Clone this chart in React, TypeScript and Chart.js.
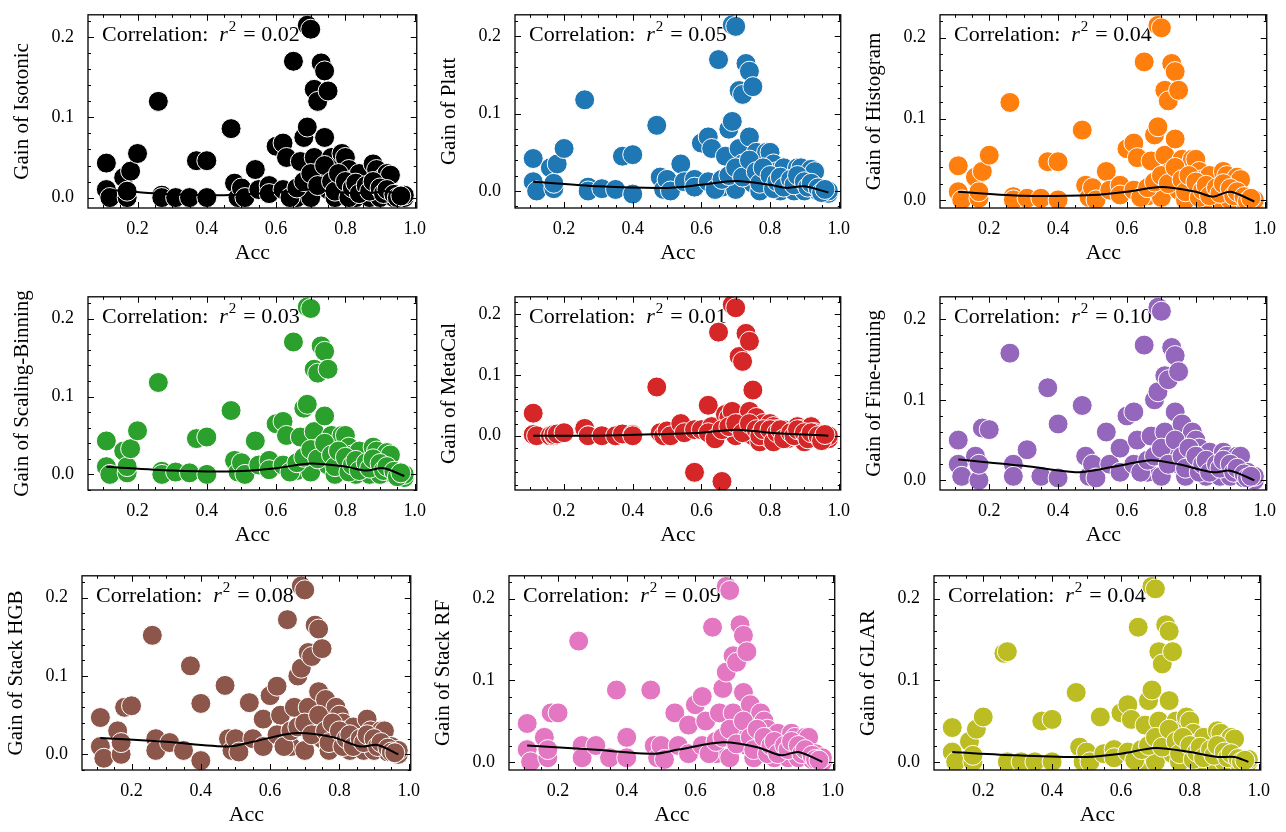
import React, { useEffect, useRef } from "react";
import { Chart, registerables } from "chart.js";
Chart.register(...registerables);

const names = ["Isotonic", "Platt", "Histogram", "Scaling-Binning", "MetaCal", "Fine-tuning", "Stack HGB", "Stack RF", "GLAR"];
const colors = ["#000000", "#1f77b4", "#ff7f0e", "#2ca02c", "#d62728", "#9467bd", "#8c564b", "#e377c2", "#bcbd22"];
const r2 = ["0.02", "0.05", "0.04", "0.03", "0.01", "0.10", "0.08", "0.09", "0.04"];
const yMins = [-0.013, -0.022, -0.01, -0.02, -0.089, -0.012, -0.02, -0.01, -0.01];

const acc = [0.11,0.11,0.12,0.16,0.17,0.17,0.18,0.2,0.26,0.27,0.27,0.31,0.35,0.37,0.4,0.4,0.47,0.48,0.49,0.5,0.51,0.54,0.55,0.58,0.58,0.6,0.62,0.63,0.65,0.66,0.67,0.68,0.69,0.69,0.7,0.7,0.71,0.71,0.72,0.72,0.73,0.73,0.74,0.74,0.75,0.75,0.76,0.77,0.78,0.79,0.8,0.8,0.81,0.82,0.83,0.84,0.85,0.86,0.87,0.88,0.89,0.9,0.91,0.92,0.93,0.94,0.95,0.96,0.97,0.97];
const accDense = [0.62,0.64,0.66,0.68,0.7,0.72,0.74,0.76,0.77,0.78,0.8,0.81,0.82,0.83,0.84,0.86,0.87,0.88,0.9,0.91,0.92,0.94,0.95,0.96];

const gIsotonic = [0.043,0.01,0.0,0.025,0.0,0.008,0.033,0.055,0.12,0.003,0.0,0.0,0.0,0.046,0.046,0.0,0.086,0.018,0.0,0.012,0.0,0.035,0.01,0.015,0.005,0.064,0.068,0.05,0.17,0.0,0.045,0.075,0.215,0.088,0.21,0.0,0.135,0.05,0.12,0.03,0.168,0.025,0.158,0.075,0.133,0.01,0.05,0.0,0.04,0.055,0.05,0.01,0.035,0.022,0.0,0.03,0.005,0.01,0.0,0.042,0.035,0.0,0.025,0.03,0.028,0.0,0.002,0.0,0.0,0.003];
const gPlatt = [0.042,0.012,0.0,0.03,0.003,0.01,0.035,0.055,0.118,0.005,0.0,0.003,0.002,0.045,0.047,-0.004,0.085,0.018,0.002,0.015,0.0,0.035,0.012,0.015,0.005,0.062,0.07,0.055,0.17,0.005,0.045,0.08,0.215,0.09,0.213,0.002,0.13,0.055,0.125,0.035,0.165,0.028,0.155,0.07,0.135,0.01,0.05,0.0,0.04,0.05,0.05,0.01,0.035,0.025,0.0,0.03,0.006,0.01,0.0,0.03,0.03,0.0,0.02,0.028,0.025,0.0,0.002,0.0,-0.003,0.0];
const gHistogram = [0.042,0.01,0.0,0.028,0.002,0.01,0.035,0.055,0.12,0.004,0.0,0.002,0.002,0.047,0.047,0.0,0.086,0.018,0.003,0.015,0.0,0.035,0.012,0.018,0.006,0.063,0.07,0.052,0.17,0.005,0.048,0.08,0.215,0.09,0.212,0.003,0.135,0.055,0.122,0.033,0.168,0.03,0.158,0.075,0.135,0.012,0.05,0.0,0.042,0.05,0.05,0.012,0.035,0.025,0.0,0.03,0.006,0.012,0.0,0.035,0.03,0.0,0.02,0.028,0.025,0.0,0.002,0.0,-0.003,0.0];
const gScaling = [0.043,0.01,0.0,0.03,0.002,0.01,0.033,0.056,0.118,0.004,0.0,0.003,0.002,0.046,0.048,0.0,0.082,0.018,0.003,0.015,0.0,0.043,0.012,0.018,0.006,0.065,0.068,0.05,0.17,0.005,0.048,0.085,0.215,0.09,0.213,0.003,0.135,0.055,0.13,0.033,0.165,0.028,0.158,0.075,0.135,0.012,0.05,0.0,0.04,0.05,0.05,0.012,0.035,0.025,0.0,0.03,0.006,0.012,0.0,0.035,0.03,0.0,0.02,0.028,0.025,0.0,0.002,0.0,-0.004,0.0];
const gMetaCal = [0.037,0.002,0.0,0.0,0.0,0.002,0.003,0.005,0.012,0.0,0.0,0.0,0.0,0.003,0.002,0.0,0.08,0.005,0.0,0.008,0.0,0.02,0.005,-0.06,0.01,0.01,0.05,0.015,0.17,-0.075,0.035,0.03,0.215,0.04,0.21,0.0,0.13,0.02,0.122,0.01,0.168,0.01,0.155,0.04,0.075,0.0,0.03,-0.01,0.02,0.01,0.02,-0.005,0.015,0.01,0.0,0.01,-0.005,0.005,0.0,0.015,0.01,-0.01,0.01,0.015,0.005,0.0,0.002,0.0,-0.005,0.0];
const gFineTuning = [0.05,0.02,0.005,0.03,0.0,0.02,0.065,0.063,0.158,0.02,0.005,0.038,0.005,0.115,0.07,0.003,0.093,0.03,0.005,0.02,0.003,0.06,0.02,0.04,0.01,0.08,0.085,0.05,0.168,0.01,0.055,0.1,0.215,0.11,0.21,0.005,0.13,0.06,0.125,0.04,0.165,0.03,0.155,0.085,0.135,0.02,0.07,0.005,0.05,0.06,0.05,0.02,0.04,0.03,0.005,0.035,0.01,0.02,0.005,0.035,0.03,0.005,0.025,0.03,0.03,0.003,0.01,0.002,0.0,0.005];
const gStackHGB = [0.047,0.01,-0.005,0.03,0.0,0.015,0.06,0.062,0.152,0.02,0.005,0.015,0.005,0.113,0.065,-0.008,0.088,0.02,0.005,0.02,0.003,0.066,0.02,0.045,0.01,0.075,0.087,0.05,0.172,0.01,0.06,0.1,0.215,0.11,0.21,0.005,0.13,0.06,0.125,0.04,0.165,0.03,0.16,0.08,0.135,0.02,0.07,0.005,0.05,0.06,0.05,0.02,0.04,0.03,0.005,0.035,0.01,0.02,0.005,0.045,0.03,0.005,0.025,0.03,0.03,0.003,0.01,0.002,0.0,0.005];
const gStackRF = [0.047,0.015,0.0,0.03,0.005,0.015,0.06,0.06,0.148,0.02,0.005,0.02,0.005,0.088,0.03,0.005,0.088,0.02,0.005,0.02,0.003,0.06,0.02,0.045,0.01,0.07,0.08,0.05,0.165,0.01,0.06,0.09,0.215,0.11,0.21,0.005,0.13,0.06,0.122,0.04,0.168,0.03,0.155,0.085,0.135,0.02,0.07,0.005,0.05,0.06,0.05,0.02,0.04,0.03,0.005,0.035,0.01,0.02,0.005,0.035,0.03,0.005,0.025,0.03,0.03,0.003,0.01,0.002,0.0,0.005];
const gGLAR = [0.042,0.012,0.0,0.025,0.0,0.008,0.04,0.055,0.133,0.135,0.0,0.0,0.0,0.05,0.052,0.0,0.085,0.018,0.0,0.012,0.0,0.055,0.01,0.015,0.005,0.06,0.07,0.052,0.165,0.0,0.045,0.075,0.215,0.088,0.212,0.0,0.135,0.05,0.12,0.03,0.168,0.025,0.16,0.075,0.135,0.01,0.05,0.0,0.04,0.055,0.05,0.01,0.035,0.022,0.0,0.03,0.005,0.01,0.0,0.038,0.035,0.0,0.025,0.03,0.028,0.0,0.002,0.0,0.0,0.003];

const dIsotonic = [0.01,0.0,0.012,0.02,0.03,0.015,0.04,0.02,0.008,0.03,0.02,0.0,0.012,0.018,0.005,0.015,0.008,0.02,0.012,0.005,0.01,0.004,0.0,0.002];
const dPlatt = [0.012,0.002,0.015,0.02,0.03,0.018,0.04,0.025,0.01,0.03,0.02,0.003,0.012,0.018,0.005,0.015,0.008,0.02,0.012,0.005,0.01,0.004,-0.002,0.002];
const dHistogram = [0.012,0.003,0.015,0.022,0.03,0.02,0.04,0.025,0.01,0.03,0.022,0.003,0.012,0.018,0.005,0.015,0.008,0.02,0.014,0.005,0.01,0.004,-0.002,0.002];
const dScaling = [0.012,0.003,0.015,0.022,0.032,0.02,0.04,0.025,0.01,0.03,0.022,0.003,0.012,0.018,0.005,0.015,0.008,0.02,0.014,0.005,0.01,0.004,-0.003,0.002];
const dMetaCal = [0.005,-0.005,0.01,0.015,0.02,0.005,0.02,0.01,0.0,0.01,0.01,-0.01,0.005,0.01,-0.005,0.005,0.0,0.01,0.005,-0.005,0.005,0.0,-0.008,0.002];
const dFineTuning = [0.02,0.01,0.025,0.03,0.04,0.02,0.05,0.03,0.015,0.04,0.03,0.01,0.02,0.025,0.01,0.02,0.015,0.025,0.02,0.01,0.015,0.008,0.003,0.005];
const dStackHGB = [0.025,0.01,0.03,0.035,0.04,0.025,0.05,0.03,0.015,0.04,0.03,0.01,0.02,0.025,0.01,0.02,0.015,0.025,0.02,0.01,0.015,0.008,0.003,0.002];
const dStackRF = [0.02,0.01,0.025,0.03,0.04,0.022,0.05,0.03,0.015,0.04,0.03,0.01,0.02,0.025,0.01,0.02,0.015,0.025,0.02,0.01,0.015,0.008,0.003,0.002];
const dGLAR = [0.012,0.002,0.015,0.02,0.03,0.018,0.04,0.025,0.01,0.03,0.02,0.003,0.012,0.018,0.005,0.015,0.008,0.02,0.012,0.005,0.01,0.004,0.0,0.002];

const tIsotonic = [[0.11,0.01],[0.3,0.004],[0.45,0.003],[0.55,0.005],[0.65,0.008],[0.7,0.01],[0.8,0.006],[0.88,0.006],[0.92,0.008],[0.97,0.0]];
const tPlatt = [[0.11,0.012],[0.3,0.006],[0.5,0.004],[0.6,0.008],[0.7,0.013],[0.8,0.008],[0.85,0.004],[0.9,0.006],[0.97,-0.002]];
const tHistogram = [[0.11,0.01],[0.3,0.005],[0.5,0.006],[0.6,0.01],[0.7,0.016],[0.8,0.01],[0.85,0.004],[0.9,0.01],[0.97,-0.002]];
const tScaling = [[0.11,0.01],[0.3,0.005],[0.48,0.004],[0.6,0.008],[0.7,0.014],[0.8,0.01],[0.86,0.005],[0.91,0.008],[0.97,-0.002]];
const tMetaCal = [[0.11,0.0],[0.3,0.0],[0.5,0.003],[0.6,0.005],[0.7,0.01],[0.8,0.005],[0.97,0.0]];
const tFineTuning = [[0.11,0.026],[0.3,0.018],[0.45,0.01],[0.5,0.012],[0.6,0.02],[0.67,0.025],[0.75,0.02],[0.85,0.01],[0.9,0.012],[0.97,0.0]];
const tStackHGB = [[0.11,0.021],[0.3,0.016],[0.48,0.01],[0.55,0.016],[0.67,0.027],[0.78,0.022],[0.86,0.01],[0.91,0.012],[0.97,0.0]];
const tStackRF = [[0.11,0.02],[0.3,0.015],[0.48,0.01],[0.55,0.015],[0.68,0.024],[0.78,0.018],[0.85,0.008],[0.9,0.012],[0.97,0.0]];
const tGLAR = [[0.11,0.012],[0.3,0.008],[0.5,0.006],[0.6,0.01],[0.7,0.017],[0.8,0.012],[0.88,0.006],[0.93,0.006],[0.97,0.0]];

const gains = [gIsotonic, gPlatt, gHistogram, gScaling, gMetaCal, gFineTuning, gStackHGB, gStackRF, gGLAR];
const dense = [dIsotonic, dPlatt, dHistogram, dScaling, dMetaCal, dFineTuning, dStackHGB, dStackRF, dGLAR];
const trends = [tIsotonic, tPlatt, tHistogram, tScaling, tMetaCal, tFineTuning, tStackHGB, tStackRF, tGLAR];

const colBoxes = [[88, 414], [515, 838], [940, 1264]];
const rowShift = [0, 0, -6];
const rowBoxes = [[14, 208], [296, 490], [575, 770]];
const FONT = "'Liberation Serif', 'DejaVu Serif', serif";
const LEFT = 82, TOP = 16, BOTTOM = 62, RIGHT = 14;

const ticksPlugin = {
  id: "mplTicks",
  beforeDatasetsDraw(chart: any, _a: any, opts: any) {
    const { ctx, chartArea: a } = chart;
    ctx.save();
    ctx.fillStyle = "#000";
    ctx.textBaseline = "alphabetic";
    let x = a.left + 14;
    const y = a.top + 26;
    ctx.font = `22px ${FONT}`;
    const t1 = "Correlation:  ";
    ctx.fillText(t1, x, y);
    x += ctx.measureText(t1).width;
    ctx.font = `italic 22px ${FONT}`;
    ctx.fillText("r", x, y);
    x += ctx.measureText("r").width + 1;
    ctx.font = `15px ${FONT}`;
    ctx.fillText("2", x, y - 10);
    x += ctx.measureText("2").width + 7;
    ctx.font = `22px ${FONT}`;
    ctx.fillText("= " + opts.r2, x, y);
    ctx.restore();
  },
  afterDraw(chart: any) {
    const { ctx, chartArea: a, scales } = chart;
    const xs = scales.x, ys = scales.y;
    ctx.save();
    ctx.strokeStyle = "#000";
    ctx.lineWidth = 1;
    ctx.beginPath();
    for (let i = 0; i <= 20; i++) {
      const v = i * 0.05;
      if (v < xs.min - 1e-9 || v > xs.max + 1e-9) continue;
      const p = Math.round(xs.getPixelForValue(v)) + 0.5;
      const len = i % 4 === 0 ? 6 : 3;
      ctx.moveTo(p, a.bottom); ctx.lineTo(p, a.bottom - len);
      ctx.moveTo(p, a.top); ctx.lineTo(p, a.top + len);
    }
    for (let i = -10; i <= 20; i++) {
      const v = i * 0.02;
      if (v < ys.min - 1e-9 || v > ys.max + 1e-9) continue;
      const p = Math.round(ys.getPixelForValue(v)) + 0.5;
      const len = i % 5 === 0 ? 6 : 3;
      ctx.moveTo(a.left, p); ctx.lineTo(a.left + len, p);
      ctx.moveTo(a.right, p); ctx.lineTo(a.right - len, p);
    }
    ctx.stroke();
    ctx.lineWidth = 1.3;
    ctx.strokeRect(a.left, a.top, a.right - a.left, a.bottom - a.top);
    ctx.restore();
  },
};

function Panel({ idx }: { idx: number }) {
  const ref = useRef<HTMLCanvasElement>(null);
  useEffect(() => {
    const pts = acc.map((a, i) => ({ x: a, y: gains[idx][i] })).concat(accDense.map((a, i) => ({ x: a, y: dense[idx][i] })));
    const line = trends[idx].map(([x, y]) => ({ x, y }));
    const chart = new Chart(ref.current!, {
      type: "scatter",
      data: {
        datasets: [
          { type: "line", data: line, borderColor: "#000", borderWidth: 2, pointRadius: 0, order: 0, tension: 0.3 } as any,
          { data: pts, backgroundColor: colors[idx], borderColor: "#fff", borderWidth: 1, pointRadius: 10, order: 1 },
        ],
      },
      plugins: [ticksPlugin],
      options: {
        animation: false,
        responsive: false,
        maintainAspectRatio: false,
        layout: { padding: 0 },
        plugins: { legend: { display: false }, tooltip: { enabled: false }, mplTicks: { r2: r2[idx] } } as any,
        scales: {
          x: {
            type: "linear", min: 0.057, max: 1.006,
            grid: { display: false }, border: { display: false },
            afterBuildTicks: (s: any) => { s.ticks = [0.2, 0.4, 0.6, 0.8, 1.0].map((v) => ({ value: v })); },
            afterFit: (s: any) => { s.height = BOTTOM; },
            ticks: { font: { family: FONT, size: 18 }, color: "#000", padding: 2, maxRotation: 0, callback: (v: any) => Number(v).toFixed(1) },
            title: { display: true, text: "Acc", font: { family: FONT, size: 22 }, color: "#000", padding: { top: 6 } },
          },
          y: {
            type: "linear", min: yMins[idx], max: 0.228,
            grid: { display: false }, border: { display: false },
            afterBuildTicks: (s: any) => { s.ticks = [0, 0.1, 0.2].map((v) => ({ value: v })); },
            afterFit: (s: any) => { s.width = LEFT; },
            ticks: { font: { family: FONT, size: 18 }, color: "#000", padding: 6, callback: (v: any) => Number(v).toFixed(1) },
            title: { display: true, text: "Gain of " + names[idx], font: { family: FONT, size: 21 }, color: "#000", padding: { bottom: 4 } },
          },
        },
      },
    });
    return () => chart.destroy();
  }, [idx]);
  const row = Math.floor(idx / 3);
  const [cl0, cr0] = colBoxes[idx % 3];
  const cl = cl0 + rowShift[row], cr = cr0 + rowShift[row];
  const [rt, rb] = rowBoxes[row];
  const w = cr - cl + LEFT + RIGHT;
  const h = rb - rt + TOP + BOTTOM;
  return (
    <canvas ref={ref} width={w} height={h}
      style={{ position: "absolute", left: cl - LEFT, top: rt - TOP, width: w, height: h }} />
  );
}

export default function App() {
  return (
    <div style={{ position: "absolute", left: 0, top: 0, width: 1286, height: 832, background: "#fff" }}>
      {names.map((_, i) => <Panel key={i} idx={i} />)}
    </div>
  );
}
